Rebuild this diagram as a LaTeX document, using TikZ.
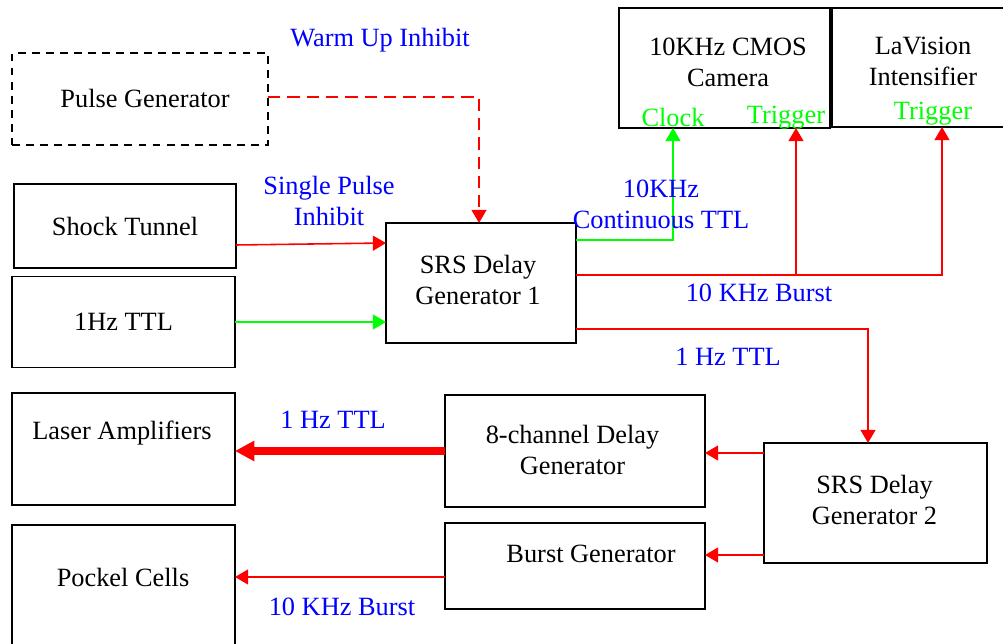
\documentclass[tikz,border=0pt]{standalone}
\usepackage{fontspec}
\setmainfont{Liberation Serif}
\usepackage{tikz}
\usetikzlibrary{positioning,arrows.meta,calc}
\definecolor{sigred}{RGB}{255,0,0}
\definecolor{siggreen}{RGB}{0,255,0}
\definecolor{sigblue}{RGB}{0,0,255}

\begin{document}
\begin{tikzpicture}[x=0.02cm,y=-0.02cm,every node/.style={font=\fontsize{15}{17.6}\selectfont},
  box/.style={draw,line width=1.1pt,inner sep=0pt,outer sep=0pt},
  sigr/.style={sigred,line width=0.9pt,-{Triangle[length=7.5pt,width=8.5pt]}},
  sigg/.style={siggreen,line width=0.9pt,-{Triangle[length=7.5pt,width=8.5pt]}},
  lbl/.style={text=sigblue,align=center},
  port/.style={text=siggreen}]
  \useasboundingbox (0,0) rectangle (1003,644);
  % boxes
  \node[box,dashed,dash pattern=on 4.5pt off 3.5pt,minimum width=5.12cm,minimum height=1.84cm] (pulse) at (140,99) {};
  \node (pulsetext) at (145,98) {Pulse Generator};
  \node[box,minimum width=4.44cm,minimum height=1.68cm] (shock) at (125,226) {Shock Tunnel};
  \node[box,minimum width=4.46cm,minimum height=1.82cm] (ttl) at (123.5,322) {1Hz TTL};
  \node[box,minimum width=3.8cm,minimum height=2.4cm,align=center] (srs1) at (481,283) {};
  \node[align=center] (srs1text) at (478,280) {SRS Delay\\Generator 1};
  \node[box,minimum width=4.22cm,minimum height=2.4cm] (cam) at (724.5,68) {};
  \node[align=center] (camtext) at (728,62) {10KHz CMOS\\Camera};
  \node[box,minimum width=3.64cm,minimum height=2.38cm] (lav) at (923,67.5) {};
  \node[align=center] (lavtext) at (923,61) {LaVision\\Intensifier};
  \node[box,minimum width=4.46cm,minimum height=2.24cm] (laser) at (123.5,449) {};
  \node (lasertext) at (122,433) {Laser Amplifiers};
  \node[box,minimum width=4.46cm,minimum height=2.6cm] (pockel) at (123.5,590) {};
  \node (pockeltext) at (123,577) {Pockel Cells};
  \node[box,minimum width=5.2cm,minimum height=2.24cm] (eight) at (575,451) {};
  \node[align=center] (eighttext) at (572.5,450) {8-channel Delay\\Generator};
  \node[box,minimum width=5.2cm,minimum height=1.72cm] (burst) at (575,566) {};
  \node (bursttext) at (591,554) {Burst Generator};
  \node[box,minimum width=4.46cm,minimum height=2.4cm] (srs2) at (875.5,503) {};
  \node[align=center] (srs2text) at (874.5,500) {SRS Delay\\Generator 2};
  % input ports
  \node[port] (clock) at (673,117) {Clock};
  \node[port] (camtrig) at (786,118) {Trigger};
  \node[port] (lavtrig) at (933,114) {Trigger};
  % connectors
  \draw[sigr,dashed,dash pattern=on 7pt off 4pt] (pulse.east |- 0,97) -| ($(srs1.north)+(-2,0)$);
  \draw[sigr] ($(shock.east)+(0,19)$) -- ($(srs1.west)+(0,-40)$);
  \draw[sigg] (ttl.east) -- (srs1.west |- ttl.east);
  \draw[sigg] ($(srs1.east)+(0,-43)$) -| ($(cam.south)+(-51.5,0)$);
  \coordinate (split) at ($(srs1.east)+(220,-8)$);
  \draw[sigr] ($(srs1.east)+(0,-8)$) -| ($(lav.south)+(19,0)$);
  \draw[sigr] (split) -- (split |- cam.south);
  \draw[sigr] ($(srs1.east)+(0,46)$) -| ($(srs2.north)+(-7.5,0)$);
  \draw[sigr] ($(srs2.west)+(0,-50)$) -- ($(eight.east)+(0,2)$);
  \draw[sigr] ($(srs2.west)+(0,52)$) -- ($(burst.east)+(0,-11)$);
  \draw[sigred,line width=4pt,-{Triangle[length=11pt,width=11pt]}] (eight.west) -- (laser.east |- eight.west);
  \draw[sigr] ($(burst.west)+(0,11)$) -- (pockel.east |- 0,577);
  % signal labels
  \node[lbl] (warm) at (380,40) {Warm Up Inhibit};
  \node[lbl] (single) at (329,201) {Single Pulse\\Inhibit};
  \node[lbl] (cont) at (661,204) {10KHz\\Continuous TTL};
  \node[lbl] (burstlbl) at (759,293) {10 KHz Burst};
  \node[lbl] (onehz) at (728,357) {1 Hz TTL};
  \node[lbl] (onehzb) at (333,420) {1 Hz TTL};
  \node[lbl] (burstlblb) at (342,607) {10 KHz Burst};
\end{tikzpicture}
\end{document}
